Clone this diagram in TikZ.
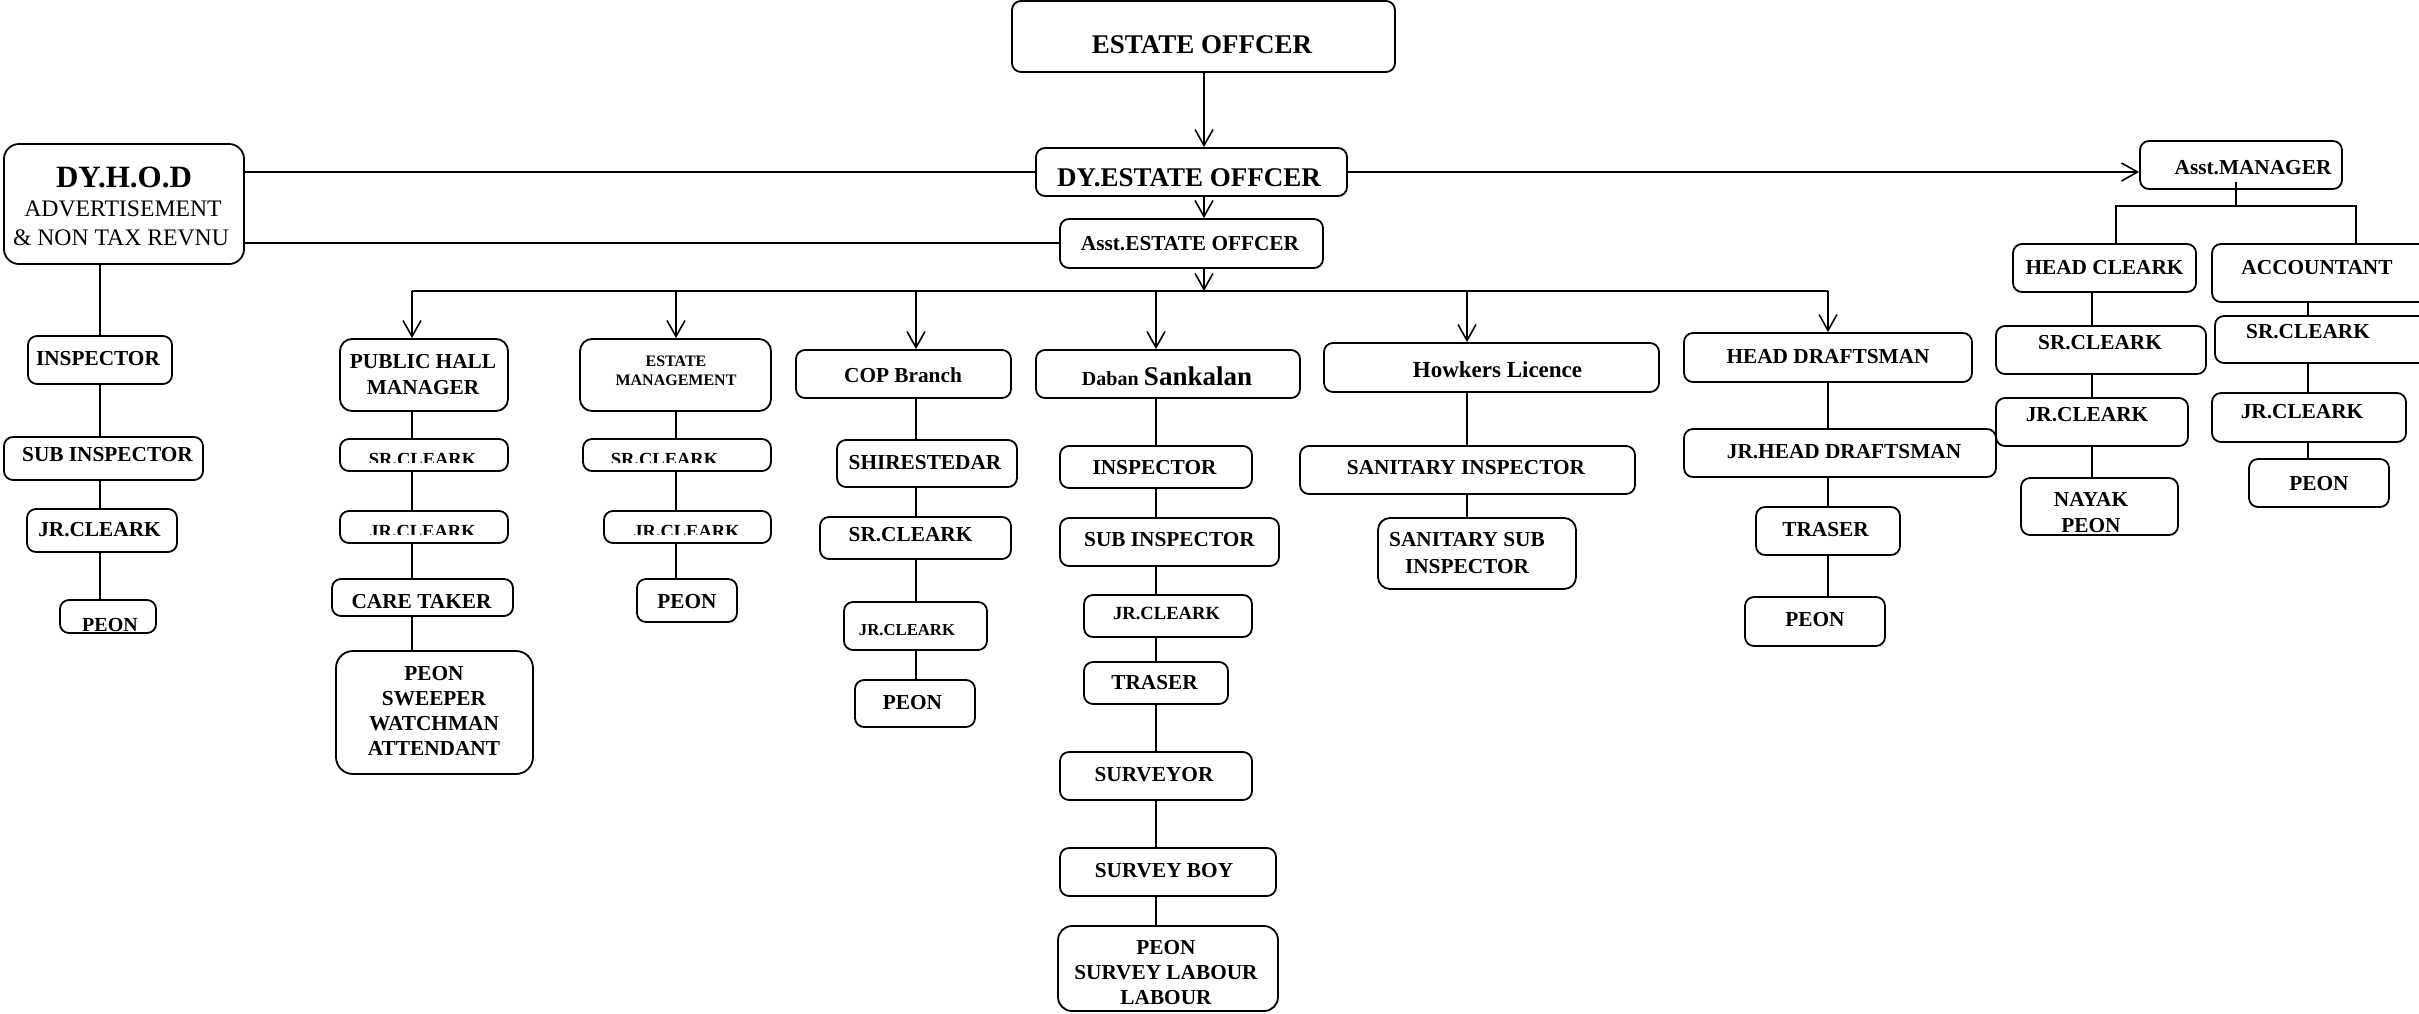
\documentclass[tikz,border=0pt]{standalone}
\usepackage{fontspec}
\setmainfont{Liberation Serif}
\usetikzlibrary{fit,arrows.meta}
\tikzset{
  obx/.style={draw, line width=1.8pt, rounded corners=9pt, inner sep=0pt},
  txt/.style={font=\bfseries\fontsize{21.3}{24.7}\selectfont, inner sep=0pt, align=center},
  ln/.style={line width=1.6pt},
  arr/.style={line width=1.6pt, -{Straight Barb[length=16pt,width=18pt]}},
}
% #1 opts, #2 name, #3-#6 box corners, #7,#8 text centre, #9 text
\newcommand\obox[9][]{%
  \node[obx,#1,fit={(#3,#4) (#5,#6)}] (#2) {};
  \node[txt,#1] (#2t) at (#7,#8) {#9};}
\begin{document}
\begin{tikzpicture}[x=1pt,y=-1pt]
\useasboundingbox (0,0) rectangle (2419,1013);
\clip (0,0) rectangle (2419,1013);

% ---- top chain
\obox[font=\bfseries\fontsize{27}{30}\selectfont]{eo}{1012}{1}{1395}{72}{1202}{45}{ESTATE OFFCER}
\obox[font=\bfseries\fontsize{27}{30}\selectfont]{deo}{1036}{148}{1347}{196}{1189}{178}{DY.ESTATE OFFCER}
\obox{aeo}{1060}{219}{1323}{268}{1190}{244}{Asst.ESTATE OFFCER}

% ---- DY.H.O.D
\node[obx, rounded corners=15pt, fit={(4,144) (244,264)}] (hod) {};
\node[txt, font=\bfseries\fontsize{31}{34}\selectfont] (hod1) at (124,177) {DY.H.O.D};
\node[txt, font=\fontsize{23.7}{27}\selectfont] (hod2) at (123,209) {ADVERTISEMENT};
\node[txt, font=\fontsize{23.7}{27}\selectfont] (hod3) at (121,238) {\& NON TAX REVNU};

\obox{yi}{28}{336}{172}{384}{98}{359}{INSPECTOR}
\obox{ysi}{4}{437}{203}{480}{107.5}{455}{SUB INSPECTOR}
\obox{yjr}{27}{509}{177}{552}{99.5}{530}{JR.CLEARK}
\node[obx, fit={(60,600) (156,633)}] (ype) {};
\begin{scope}
  \clip (60,600) rectangle (156,632);
  \node[txt, font=\bfseries\fontsize{20}{24}\selectfont] (ypet) at (110,625) {PEON};
\end{scope}

% ---- Public hall
\obox[rounded corners=12pt, font=\bfseries\fontsize{21.3}{26}\selectfont]{phm}{340}{339}{508}{411}{423}{375}{PUBLIC HALL\\MANAGER}
\node[obx, fit={(340,439) (508,471)}] (psr) {};
\begin{scope}
  \clip (340,439) rectangle (508,462);
  \node[txt, font=\bfseries\fontsize{18.5}{22}\selectfont] (psrt) at (422.5,459) {SR.CLEARK};
\end{scope}
\node[obx, fit={(340,511) (508,543)}] (pjr) {};
\begin{scope}
  \clip (340,511) rectangle (508,534);
  \node[txt, font=\bfseries\fontsize{18.5}{22}\selectfont] (pjrt) at (422.5,531) {JR.CLEARK};
\end{scope}
\obox{pct}{332}{579}{513}{616}{421.5}{602}{CARE TAKER}
\obox[rounded corners=17pt]{pps}{336}{651}{533}{774}{434}{711}{PEON\\SWEEPER\\WATCHMAN\\ATTENDANT}

% ---- Estate management
\obox[rounded corners=12pt, font=\bfseries\fontsize{16}{19}\selectfont]{em}{580}{339}{771}{411}{676}{370.5}{ESTATE\\MANAGEMENT}
\node[obx, fit={(583,439) (771,471)}] (esr) {};
\begin{scope}
  \clip (583,439) rectangle (771,462);
  \node[txt, font=\bfseries\fontsize{18.5}{22}\selectfont] (esrt) at (664.5,459) {SR.CLEARK};
\end{scope}
\node[obx, fit={(604,511) (771,543)}] (ejr) {};
\begin{scope}
  \clip (604,511) rectangle (771,534);
  \node[txt, font=\bfseries\fontsize{18.5}{22}\selectfont] (ejrt) at (686.5,531) {JR.CLEARK};
\end{scope}
\obox{emp}{637}{579}{737}{622}{687}{602}{PEON}

% ---- COP branch
\obox{cop}{796}{350}{1011}{398}{903}{375}{COP Branch}
\obox{csh}{837}{440}{1017}{487}{925}{463}{SHIRESTEDAR}
\obox{csr}{820}{517}{1011}{559}{910.5}{535}{SR.CLEARK}
\obox[font=\bfseries\fontsize{16.7}{19}\selectfont]{cjr}{844}{602}{987}{650}{907}{630}{JR.CLEARK}
\obox{cpe}{855}{680}{975}{727}{912.5}{703}{PEON}

% ---- Daban Sankalan
\node[obx, fit={(1036,350) (1300,398)}] (dab) {};
\node[txt, anchor=base] (dabt) at (1167,385) {{\fontsize{20}{24}\selectfont Daban} {\fontsize{27}{30}\selectfont Sankalan}};
\obox{di}{1060}{446}{1252}{488}{1154.5}{468}{INSPECTOR}
\obox{dsi}{1060}{518}{1279}{566}{1169.5}{540}{SUB INSPECTOR}
\obox[font=\bfseries\fontsize{18.6}{22}\selectfont]{djr}{1084}{595}{1252}{637}{1166.5}{613}{JR.CLEARK}
\obox{dtr}{1084}{662}{1228}{704}{1154.5}{683}{TRASER}
\obox{dsv}{1060}{752}{1252}{800}{1154}{775}{SURVEYOR}
\obox{dsb}{1060}{848}{1276}{896}{1164}{871}{SURVEY BOY}
\obox[rounded corners=14pt, font=\bfseries\fontsize{21.3}{25}\selectfont]{dpe}{1058}{926}{1278}{1011}{1166}{973}{PEON\\SURVEY LABOUR\\LABOUR}

% ---- Howkers Licence
\obox[font=\bfseries\fontsize{23}{26}\selectfont]{hl}{1324}{343}{1659}{392}{1497.5}{370}{Howkers Licence}
\obox{hsa}{1300}{446}{1635}{494}{1466}{468}{SANITARY INSPECTOR}
\obox[rounded corners=12pt, font=\bfseries\fontsize{21.3}{27}\selectfont]{hss}{1378}{518}{1576}{589}{1467}{553.5}{SANITARY SUB\\INSPECTOR}

% ---- Head draftsman
\obox{hd}{1684}{333}{1972}{382}{1828}{357}{HEAD DRAFTSMAN}
\obox{hjd}{1684}{429}{1996}{477}{1844}{452}{JR.HEAD DRAFTSMAN}
\obox{htr}{1756}{507}{1900}{555}{1825.5}{530}{TRASER}
\obox{hpe}{1745}{597}{1885}{646}{1815}{620}{PEON}

% ---- Asst. manager side
\obox{am}{2140}{141}{2342}{189}{2253}{168}{Asst.MANAGER}
\obox{hc}{2013}{244}{2196}{292}{2104.5}{268}{HEAD CLEARK}
\obox{acc}{2212}{244}{2440}{302}{2317}{268}{ACCOUNTANT}
\obox{rsr}{1996}{326}{2206}{374}{2100}{343}{SR.CLEARK}
\obox{rjr}{1996}{398}{2188}{446}{2087}{415}{JR.CLEARK}
\node[obx, fit={(2021,478) (2178,535)}] (rnp) {};
\begin{scope}
  \clip (2021,478) rectangle (2178,533);
  \node[txt, font=\bfseries\fontsize{21.3}{26}\selectfont] (rnpt) at (2091,513) {NAYAK\\PEON};
\end{scope}
\obox{asr}{2215}{316}{2440}{363}{2308}{332}{SR.CLEARK}
\obox{ajr}{2212}{393}{2406}{442}{2302}{412}{JR.CLEARK}
\obox{ape}{2249}{459}{2389}{507}{2319}{484}{PEON}

% ---- helper coordinates
\coordinate (kTop) at (1204,0);
\coordinate (kY) at (100,0);
\coordinate (kP) at (412,0);
\coordinate (kE) at (676,0);
\coordinate (kC) at (916,0);
\coordinate (kD) at (1156,0);
\coordinate (kH) at (1467,0);
\coordinate (kR) at (1828,0);
\coordinate (kM) at (2236,0);
\coordinate (kHb) at (2116,0);
\coordinate (kAb) at (2356,0);
\coordinate (kHC) at (2092,0);
\coordinate (kA) at (2308,0);
\coordinate (yA) at (0,172);
\coordinate (yB) at (0,243);
\coordinate (bus) at (1204,291);
\coordinate (mj) at (2236,206);
\coordinate (amS) at ([yshift=8pt]am.south);

% ---- connectors
\draw[arr] (eo.south -| kTop) -- (deo.north -| kTop);
\draw[arr] (deo.south -| kTop) -- (aeo.north -| kTop);
\draw[arr] (aeo.south -| kTop) -- (bus);
\draw[ln] (bus -| kP) -- (bus -| kR);
\foreach \k/\n in {kP/phm, kE/em, kC/cop, kD/dab, kH/hl, kR/hd}
  \draw[arr] (bus -| \k) -- (\n.north -| \k);

\draw[ln] (hod.east |- yA) -- (deo.west |- yA);
\draw[arr] (deo.east |- yA) -- (am.west |- yA);
\draw[ln] (hod.east |- yB) -- (aeo.west |- yB);

\foreach \a/\b/\k in {hod/yi/kY, yi/ysi/kY, ysi/yjr/kY, yjr/ype/kY,
  phm/psr/kP, psr/pjr/kP, pjr/pct/kP, pct/pps/kP,
  em/esr/kE, esr/ejr/kE, ejr/emp/kE,
  cop/csh/kC, csh/csr/kC, csr/cjr/kC, cjr/cpe/kC,
  dab/di/kD, di/dsi/kD, dsi/djr/kD, djr/dtr/kD, dtr/dsv/kD, dsv/dsb/kD, dsb/dpe/kD,
  hl/hsa/kH, hsa/hss/kH,
  hd/hjd/kR, hjd/htr/kR, htr/hpe/kR,
  hc/rsr/kHC, rsr/rjr/kHC, rjr/rnp/kHC,
  acc/asr/kA, asr/ajr/kA, ajr/ape/kA}
  \draw[ln] (\a.south -| \k) -- (\b.north -| \k);

\draw[ln] (amS -| kM) -- (mj);
\draw[ln] (hc.north -| kHb) |- (mj) -| (acc.north -| kAb);
\end{tikzpicture}
\end{document}
